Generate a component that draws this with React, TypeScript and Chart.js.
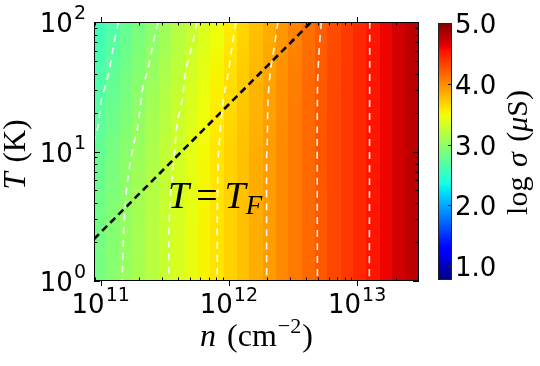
import React, { useEffect, useRef } from "react";
import { Chart, registerables } from "chart.js";

Chart.register(...registerables);

// ---------- axis ranges & ticks ----------
const N_MIN = 8.87e10;
const N_MAX = 3.04e13;
const T_MIN = 1;
const T_MAX = 100;
const X_TICK_EXPONENTS = [11, 12, 13];
const Y_TICK_EXPONENTS = [0, 1, 2];
const CBAR_TICKS = [1.0, 2.0, 3.0, 4.0, 5.0];
const CBAR_MIN = 0.77;
const CBAR_MAX = 5.0;

// ---------- heat map: log sigma per n-column (25 log-spaced columns) at five temperatures ----------
const HEAT_COLS = 25;
const ROW_T = [1, 3.16, 10, 31.6, 100];
const SIGMA_T1 = [2.86, 2.95, 3.03, 3.11, 3.2, 3.28, 3.36, 3.44, 3.52, 3.6, 3.68, 3.76, 3.84, 3.92, 4.0, 4.07, 4.15, 4.22, 4.3, 4.37, 4.45, 4.52, 4.6, 4.7, 4.78];
const SIGMA_T3 = [2.84, 2.93, 3.01, 3.1, 3.19, 3.28, 3.36, 3.44, 3.52, 3.6, 3.68, 3.76, 3.84, 3.92, 4.0, 4.07, 4.15, 4.22, 4.3, 4.37, 4.45, 4.52, 4.6, 4.7, 4.78];
const SIGMA_T10 = [2.77, 2.86, 2.96, 3.05, 3.14, 3.24, 3.33, 3.42, 3.5, 3.59, 3.68, 3.76, 3.84, 3.92, 4.0, 4.07, 4.15, 4.23, 4.3, 4.37, 4.45, 4.52, 4.6, 4.7, 4.78];
const SIGMA_T30 = [2.67, 2.77, 2.86, 2.96, 3.06, 3.16, 3.26, 3.36, 3.45, 3.54, 3.63, 3.72, 3.81, 3.9, 3.98, 4.06, 4.15, 4.22, 4.3, 4.37, 4.45, 4.52, 4.6, 4.7, 4.78];
const SIGMA_T100 = [2.57, 2.66, 2.76, 2.86, 2.96, 3.06, 3.16, 3.26, 3.36, 3.46, 3.56, 3.66, 3.75, 3.84, 3.93, 4.02, 4.11, 4.2, 4.28, 4.36, 4.44, 4.52, 4.6, 4.7, 4.78];

// ---------- contour lines (white dashed) ----------
const C1_N = [1.377e11, 1.27e11, 1.161e11, 1.094e11, 1.012e11, 9.53e10, 8.87e10];
const C1_T = [100, 68.9, 41.1, 32.7, 25.0, 15.5, 12.3];
const C2_N = [2.8e11, 2.57e11, 2.31e11, 2.15e11, 1.93e11, 1.82e11, 1.73e11, 1.61e11, 1.54e11, 1.5e11, 1.47e11];
const C2_T = [100, 68.9, 41.1, 32.7, 14.7, 11.6, 9.12, 5.71, 3.35, 1.96, 1];
const C3_N = [5.64e11, 5.18e11, 4.6e11, 4.33e11, 3.95e11, 3.68e11, 3.47e11, 3.4e11, 3.4e11];
const C3_T = [100, 66.4, 42.6, 25.0, 16.6, 7.64, 4.22, 2.2, 1];
const C4_N = [1.135e12, 1.062e12, 9.89e11, 9.04e11, 8.61e11, 8.39e11, 8.26e11, 8.11e11, 8.11e11];
const C4_T = [100, 66.4, 40.4, 25.0, 15.6, 11.2, 9.12, 3.14, 1];
const C5_N = [2.41e12, 2.24e12, 2.11e12, 2.02e12, 1.99e12, 1.97e12, 1.97e12];
const C5_T = [100, 60.8, 42.6, 25.0, 11.6, 9.08, 1];
const C6_N = [5.26e12, 5.04e12, 4.91e12, 4.88e12, 4.9e12];
const C6_T = [100, 57.7, 31.6, 11.6, 1];
const C7_N = [1.256e13, 1.245e13];
const C7_T = [100, 1];

// ---------- T = T_F line ----------
const TF_N = [8.87e10, 4.39e12];
const TF_T = [2.11, 100];
const TF_LABEL_N = 3.35e11;
const TF_LABEL_T = 3.67;

// ---------- helpers ----------
const JET_R: number[][] = [[0, 0], [0.35, 0], [0.66, 1], [0.89, 1], [1, 0.5]];
const JET_G: number[][] = [[0, 0], [0.125, 0], [0.375, 1], [0.64, 1], [0.91, 0], [1, 0]];
const JET_B: number[][] = [[0, 0.5], [0.11, 1], [0.34, 1], [0.65, 0], [1, 0]];

function seg(pts: number[][], t: number) {
  if (t <= pts[0][0]) return pts[0][1];
  for (let i = 1; i < pts.length; i++) {
    if (t <= pts[i][0]) {
      const [x0, y0] = pts[i - 1];
      const [x1, y1] = pts[i];
      return y0 + ((t - x0) / (x1 - x0)) * (y1 - y0);
    }
  }
  return pts[pts.length - 1][1];
}
function jet(t: number) {
  const c = Math.max(0, Math.min(1, t));
  const r = Math.round(255 * seg(JET_R, c));
  const g = Math.round(255 * seg(JET_G, c));
  const b = Math.round(255 * seg(JET_B, c));
  return `rgb(${r},${g},${b})`;
}
function interp(xs: number[], ys: number[], x: number) {
  if (x <= xs[0]) return ys[0];
  for (let i = 1; i < xs.length; i++) {
    if (x <= xs[i]) return ys[i - 1] + ((x - xs[i - 1]) / (xs[i] - xs[i - 1])) * (ys[i] - ys[i - 1]);
  }
  return ys[ys.length - 1];
}

type Run = { text: string; font: string; dy?: number; dx?: number };
function runsWidth(ctx: CanvasRenderingContext2D, runs: Run[]) {
  let w = 0;
  for (const r of runs) {
    ctx.font = r.font;
    w += ctx.measureText(r.text).width + (r.dx || 0);
  }
  return w;
}
function drawRuns(ctx: CanvasRenderingContext2D, runs: Run[], x: number, y: number, align: "left" | "center" | "right") {
  const w = runsWidth(ctx, runs);
  let cx = align === "left" ? x : align === "center" ? x - w / 2 : x - w;
  ctx.textAlign = "left";
  ctx.textBaseline = "alphabetic";
  for (const r of runs) {
    ctx.font = r.font;
    cx += r.dx || 0;
    ctx.fillText(r.text, cx, y + (r.dy || 0));
    cx += ctx.measureText(r.text).width;
  }
}

const SANS = "'DejaVu Sans'";
const SERIF = "'Liberation Serif'";
const TICK_FONT = `26px ${SANS}`;
const SUP_FONT = `19px ${SANS}`;

const pts = (ns: number[], ts: number[]) => ns.map((n, i) => ({ x: n, y: ts[i] }));

const heatmapPlugin = {
  id: "heatmap",
  beforeDatasetsDraw(chart: any) {
    const { ctx, chartArea: a, scales } = chart;
    const xs = scales.x;
    const ys = scales.y;
    const rows = [SIGMA_T1, SIGMA_T3, SIGMA_T10, SIGMA_T30, SIGMA_T100];
    const rowLog = ROW_T.map((t) => Math.log10(t));
    const lmin = Math.log10(N_MIN);
    const lmax = Math.log10(N_MAX);
    const dl = (lmax - lmin) / HEAT_COLS;
    const tl0 = Math.log10(T_MIN);
    const tl1 = Math.log10(T_MAX);
    const NR = 40;
    ctx.save();
    ctx.beginPath();
    ctx.rect(a.left, a.top, a.right - a.left, a.bottom - a.top);
    ctx.clip();
    for (let i = 0; i < HEAT_COLS; i++) {
      const x0 = Math.floor(xs.getPixelForValue(Math.pow(10, lmin + i * dl)));
      const x1 = Math.ceil(xs.getPixelForValue(Math.pow(10, lmin + (i + 1) * dl)));
      const colVals = rows.map((r) => r[i]);
      for (let j = 0; j < NR; j++) {
        const l0 = tl0 + ((tl1 - tl0) * j) / NR;
        const l1 = tl0 + ((tl1 - tl0) * (j + 1)) / NR;
        const v = interp(rowLog, colVals, (l0 + l1) / 2);
        const y0 = Math.floor(ys.getPixelForValue(Math.pow(10, l1)));
        const y1 = Math.ceil(ys.getPixelForValue(Math.pow(10, l0)));
        ctx.fillStyle = jet((v - CBAR_MIN) / (CBAR_MAX - CBAR_MIN));
        ctx.fillRect(x0, y0, x1 - x0 + 1, y1 - y0 + 1);
      }
    }
    ctx.restore();
  },
};

const decorPlugin = {
  id: "decor",
  afterDraw(chart: any) {
    const { ctx, chartArea: a, scales } = chart;
    const xs = scales.x;
    const ys = scales.y;
    ctx.save();
    // T = T_F label
    ctx.fillStyle = "#000";
    const lx = xs.getPixelForValue(TF_LABEL_N);
    const ly = ys.getPixelForValue(TF_LABEL_T);
    drawRuns(
      ctx,
      [
        { text: "T", font: `italic 38px ${SERIF}` },
        { text: "=", font: `38px ${SERIF}`, dx: 7 },
        { text: "T", font: `italic 38px ${SERIF}`, dx: 7 },
        { text: "F", font: `italic 27px ${SERIF}`, dy: 6, dx: 0 },
      ],
      lx,
      ly,
      "left"
    );

    // frame
    ctx.strokeStyle = "#000";
    ctx.lineWidth = 1;
    ctx.strokeRect(a.left + 0.5, a.top + 0.5, a.right - a.left - 1, a.bottom - a.top - 1);

    // x ticks
    ctx.beginPath();
    for (let e = 10; e <= 13; e++) {
      for (let m = 1; m <= 9; m++) {
        const v = m * Math.pow(10, e);
        if (v < N_MIN || v > N_MAX) continue;
        const px = Math.round(xs.getPixelForValue(v)) + 0.5;
        if (m === 1) {
          ctx.moveTo(px, a.bottom);
          ctx.lineTo(px, a.bottom + 5);
          ctx.moveTo(px, a.top);
          ctx.lineTo(px, a.top - 5);
        } else {
          ctx.moveTo(px, a.bottom);
          ctx.lineTo(px, a.bottom - 3.5);
          ctx.moveTo(px, a.top);
          ctx.lineTo(px, a.top + 3.5);
        }
      }
    }
    // y ticks
    for (let e = 0; e <= 2; e++) {
      for (let m = 1; m <= 9; m++) {
        const v = m * Math.pow(10, e);
        if (v < T_MIN || v > T_MAX) continue;
        const py = Math.round(ys.getPixelForValue(v)) + 0.5;
        const len = m === 1 ? 6 : 3.5;
        ctx.moveTo(a.left, py);
        ctx.lineTo(a.left + len, py);
        ctx.moveTo(a.right, py);
        ctx.lineTo(a.right - len, py);
      }
    }
    ctx.stroke();

    // x tick labels
    ctx.fillStyle = "#000";
    for (const e of X_TICK_EXPONENTS) {
      const px = xs.getPixelForValue(Math.pow(10, e));
      ctx.font = TICK_FONT;
      const wb = ctx.measureText("10").width;
      ctx.font = SUP_FONT;
      const wsup = ctx.measureText(String(e)).width;
      const start = px - (wb + wsup + 1) / 2;
      ctx.textAlign = "left";
      ctx.textBaseline = "alphabetic";
      ctx.font = TICK_FONT;
      ctx.fillText("10", start, a.bottom + 32);
      ctx.font = SUP_FONT;
      ctx.fillText(String(e), start + wb + 1, a.bottom + 20);
    }
    // y tick labels
    for (const e of Y_TICK_EXPONENTS) {
      const py = ys.getPixelForValue(Math.pow(10, e));
      ctx.font = SUP_FONT;
      const wsup = ctx.measureText(String(e)).width;
      ctx.textAlign = "left";
      ctx.textBaseline = "alphabetic";
      const right = a.left - 8;
      ctx.fillText(String(e), right - wsup, py - 3);
      ctx.font = TICK_FONT;
      const wb = ctx.measureText("10").width;
      ctx.fillText("10", right - wsup - 1 - wb, py + 10);
    }

    // axis titles
    drawRuns(
      ctx,
      [
        { text: "n", font: `italic 32px ${SERIF}` },
        { text: " (cm", font: `32px ${SERIF}`, dx: 3 },
        { text: "\u22122", font: `22px ${SERIF}`, dy: -13, dx: 1 },
        { text: ")", font: `32px ${SERIF}`, dx: 1 },
      ],
      (a.left + a.right) / 2,
      a.bottom + 65,
      "center"
    );
    ctx.save();
    ctx.translate(25, (a.top + a.bottom) / 2 + 3);
    ctx.rotate(-Math.PI / 2);
    drawRuns(
      ctx,
      [
        { text: "T", font: `italic 31px ${SERIF}` },
        { text: " (K)", font: `31px ${SERIF}`, dx: 2 },
      ],
      0,
      0,
      "center"
    );
    ctx.restore();

    // colorbar
    const cbL = a.right + 19;
    const cbR = cbL + 14;
    const cbT = a.top + 1;
    const cbB = a.bottom - 1;
    for (let yy = cbT; yy < cbB; yy++) {
      const t = (cbB - (yy + 0.5)) / (cbB - cbT);
      ctx.fillStyle = jet(t);
      ctx.fillRect(cbL, yy, cbR - cbL, 1);
    }
    ctx.strokeStyle = "#222";
    ctx.lineWidth = 1;
    ctx.strokeRect(cbL + 0.5, cbT + 0.5, cbR - cbL - 1, cbB - cbT - 1);
    ctx.beginPath();
    ctx.fillStyle = "#000";
    for (const v of CBAR_TICKS) {
      const py = Math.round(cbB - ((v - CBAR_MIN) / (CBAR_MAX - CBAR_MIN)) * (cbB - cbT)) + 0.5;
      ctx.moveTo(cbR, py);
      ctx.lineTo(cbR - 4, py);
      ctx.font = TICK_FONT;
      ctx.textAlign = "left";
      ctx.textBaseline = "alphabetic";
      ctx.fillText(v.toFixed(1), cbR + 3, py + 9);
    }
    ctx.stroke();

    // colorbar label
    ctx.save();
    ctx.translate(527, (a.top + a.bottom) / 2 + 1);
    ctx.rotate(-Math.PI / 2);
    ctx.fillStyle = "#000";
    drawRuns(
      ctx,
      [
        { text: "log", font: `30px ${SERIF}` },
        { text: " \u03c3", font: `italic 30px ${SERIF}`, dx: 2 },
        { text: " (", font: `30px ${SERIF}`, dx: 3 },
        { text: "\u03bc", font: `italic 30px ${SERIF}` },
        { text: "S)", font: `30px ${SERIF}` },
      ],
      0,
      0,
      "center"
    );
    ctx.restore();

    ctx.restore();
  },
};

const contourStyle = {
  showLine: true,
  borderColor: "rgba(255,255,255,0.95)",
  borderWidth: 1.6,
  borderDash: [7, 6],
  pointRadius: 0,
  tension: 0.2,
  fill: false,
};

export default function App() {
  const ref = useRef<HTMLCanvasElement>(null);
  useEffect(() => {
    if (!ref.current) return;
    const chart = new Chart(ref.current, {
      type: "scatter",
      data: {
        datasets: [
          { label: "c1", data: pts(C1_N, C1_T), ...contourStyle },
          { label: "c2", data: pts(C2_N, C2_T), ...contourStyle },
          { label: "c3", data: pts(C3_N, C3_T), ...contourStyle },
          { label: "c4", data: pts(C4_N, C4_T), ...contourStyle },
          { label: "c5", data: pts(C5_N, C5_T), ...contourStyle },
          { label: "c6", data: pts(C6_N, C6_T), ...contourStyle },
          { label: "c7", data: pts(C7_N, C7_T), ...contourStyle },
          {
            label: "T = T_F",
            data: pts(TF_N, TF_T),
            showLine: true,
            borderColor: "#000",
            borderWidth: 2.6,
            borderDash: [7, 4.5],
            pointRadius: 0,
            fill: false,
          },
        ] as any,
      },
      options: {
        responsive: false,
        animation: false,
        devicePixelRatio: 1,
        events: [],
        layout: { padding: { left: 94, right: 121, top: 22, bottom: 85 } },
        plugins: { legend: { display: false }, tooltip: { enabled: false } },
        scales: {
          x: { type: "logarithmic", min: N_MIN, max: N_MAX, display: false },
          y: { type: "logarithmic", min: T_MIN, max: T_MAX, display: false },
        },
      },
      plugins: [heatmapPlugin, decorPlugin],
    });
    return () => chart.destroy();
  }, []);
  return (
    <div style={{ position: "absolute", left: 0, top: 0, width: 540, height: 366, background: "#fff" }}>
      <canvas ref={ref} width={540} height={366} style={{ display: "block" }} />
    </div>
  );
}
